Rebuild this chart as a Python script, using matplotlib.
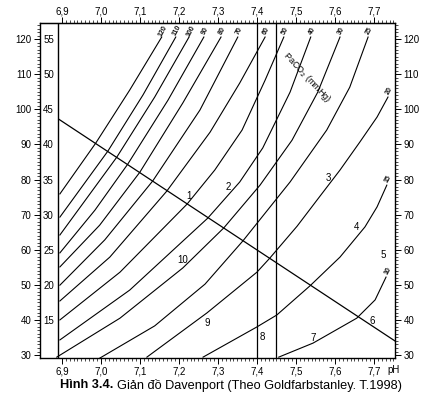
import matplotlib.pyplot as plt
from matplotlib.ticker import FixedLocator

plt.rcParams['font.family'] = ['Liberation Sans', 'DejaVu Sans']

# axis ticks
ph_ticks = [6.9, 7.0, 7.1, 7.2, 7.3, 7.4, 7.5, 7.6, 7.7]
ph_labels = ['6,9', '7,0', '7,1', '7,2', '7,3', '7,4', '7,5', '7,6', '7,7']
outer_ticks = [30, 40, 50, 60, 70, 80, 90, 100, 110, 120]
inner_ticks = [15, 20, 25, 30, 35, 40, 45, 50, 55]

# PaCO2 isobars (pH, value on the 30-120 scale), upper-left to lower-right
curves_ph = [
    [6.895, 6.987, 7.074, 7.156],
    [6.895, 7.018, 7.108, 7.192],
    [6.895, 7.041, 7.138, 7.226],
    [6.895, 6.985, 7.069, 7.172, 7.264],
    [6.895, 6.997, 7.100, 7.210, 7.308],
    [6.895, 7.010, 7.133, 7.254, 7.351],
    [6.895, 7.023, 7.169, 7.280, 7.356, 7.421],
    [6.895, 7.049, 7.221, 7.292, 7.362, 7.421, 7.469],
    [6.895, 7.074, 7.274, 7.356, 7.415, 7.485, 7.538],
    [6.887, 7.049, 7.210, 7.315, 7.408, 7.490, 7.556, 7.613],
    [6.997, 7.138, 7.267, 7.364, 7.485, 7.579, 7.638, 7.685],
    [7.118, 7.272, 7.400, 7.433, 7.503, 7.562, 7.613, 7.664, 7.708, 7.736],
    [7.262, 7.400, 7.451, 7.536, 7.613, 7.677, 7.708, 7.733],
    [7.456, 7.544, 7.656, 7.703, 7.731],
]
curves_val = [
    [75.9, 90.4, 105.5, 120.6],
    [69.3, 88.1, 104.1, 120.6],
    [64.2, 86.4, 103.5, 120.6],
    [59.1, 71.3, 84.4, 102.6, 120.6],
    [55.1, 67.0, 82.1, 101.8, 120.6],
    [49.9, 62.8, 79.6, 99.8, 120.6],
    [45.4, 57.9, 76.7, 93.5, 107.5, 120.6],
    [40.0, 53.6, 73.0, 82.7, 94.1, 108.3, 120.6],
    [34.3, 48.5, 69.0, 79.3, 89.0, 104.9, 120.6],
    [29.4, 40.5, 54.8, 66.2, 78.4, 91.2, 104.9, 120.6],
    [29.1, 38.3, 50.2, 62.5, 79.3, 94.1, 106.3, 120.6],
    [29.4, 42.0, 53.6, 57.6, 66.7, 75.3, 82.7, 90.7, 97.8, 103.5],
    [29.4, 38.0, 41.4, 49.7, 57.9, 66.5, 72.2, 78.4],
    [29.4, 33.4, 40.5, 45.7, 52.2],
]
paco2 = ['120', '110', '100', '90', '80', '70', '60', '50', '40', '30',
         '25', '20', '15', '10']

# buffer line and pH limits
buffer_ph = [6.892, 7.754]
buffer_val = [97.2, 34.0]
limit_ph = [7.40, 7.45]
inner_ph = 6.890

# region numbers
num_text = ['1', '2', '3', '4', '5', '6', '7', '8', '9', '10']
num_ph = [7.226, 7.326, 7.582, 7.656, 7.723, 7.695, 7.544, 7.413, 7.272, 7.210]
num_val = [75.3, 77.8, 80.4, 66.5, 58.5, 39.7, 34.8, 35.1, 39.1, 57.1]

fig = plt.figure(figsize=(4.35, 3.99), dpi=100)
ax = fig.add_axes([40 / 435, 1 - 358 / 399, 355 / 435, 335 / 399])
ax.set_xlim(6.844, 7.754)
ax.set_ylim(29.15, 124.6)

for xs, ys in zip(curves_ph, curves_val):
    ax.plot(xs, ys, color='black', lw=0.8)
for i, (xs, ys) in enumerate(zip(curves_ph, curves_val)):
    ax.text(xs[-1] + 0.004, ys[-1] + 1.8, paco2[i], fontsize=5,
            fontweight='heavy', rotation=62, ha='center', va='center',
            color='#111111')

ax.plot(buffer_ph, buffer_val, color='black', lw=0.9)
for p in limit_ph:
    ax.axvline(p, color='black', lw=0.9)
ax.axvline(inner_ph, color='black', lw=1.0)

for t, p, v in zip(num_text, num_ph, num_val):
    ax.text(p, v, t, fontsize=7, ha='center', va='center')

ax.text(7.528, 109.2, 'PaCO$_2$ (mmHg)', fontsize=6.5, rotation=-47,
        ha='center', va='center')

# x axes (bottom and top)
minor_ph = [6.9 + 0.01 * i for i in range(86)]
ax.xaxis.set_major_locator(FixedLocator(ph_ticks))
ax.xaxis.set_minor_locator(FixedLocator(minor_ph))
ax.set_xticklabels(ph_labels)
ax.tick_params(axis='x', which='major', length=4, width=0.7, labelsize=7, pad=2)
ax.tick_params(axis='x', which='minor', length=2, width=0.5)
top = ax.secondary_xaxis('top')
top.xaxis.set_major_locator(FixedLocator(ph_ticks))
top.xaxis.set_minor_locator(FixedLocator(minor_ph))
top.set_xticklabels(ph_labels)
top.tick_params(axis='x', which='major', length=4, width=0.7, labelsize=7, pad=1)
top.tick_params(axis='x', which='minor', length=2, width=0.5)

# y axes (outer left and right)
ax.yaxis.set_major_locator(FixedLocator(outer_ticks))
ax.yaxis.set_minor_locator(FixedLocator(list(range(30, 125))))
ax.tick_params(axis='y', which='major', length=4, width=0.7, labelsize=7,
               pad=2, right=True, labelright=True)
ax.tick_params(axis='y', which='minor', length=2, width=0.5, right=True)

# inner bicarbonate scale
inner = ax.secondary_yaxis(18 / 355, functions=(lambda v: v / 2 - 5,
                                                lambda h: 2 * (h + 5)))
inner.yaxis.set_major_locator(FixedLocator(inner_ticks))
inner.yaxis.set_minor_locator(FixedLocator([]))
inner.tick_params(length=0, labelsize=7, pad=3)
inner.spines['left'].set_visible(False)

for s in ax.spines.values():
    s.set_linewidth(1.0)

ax.text(7.751, 25.7, 'pH', fontsize=7, ha='center', va='center', clip_on=False)

# caption: bold figure number followed by normal text
cap_y = 1 - 385 / 399
bold = fig.text(60 / 435, cap_y, 'Hình 3.4.', fontsize=9.2, fontweight='bold',
                ha='left', va='center')
r = fig.canvas.get_renderer()
bb = bold.get_window_extent(r)
fig.text((bb.x1 + 4) / 435, cap_y,
         'Giản đồ Davenport (Theo Goldfarbstanley. T.1998)',
         fontsize=9.2, ha='left', va='center')

fig.savefig('out.png', dpi=100)
